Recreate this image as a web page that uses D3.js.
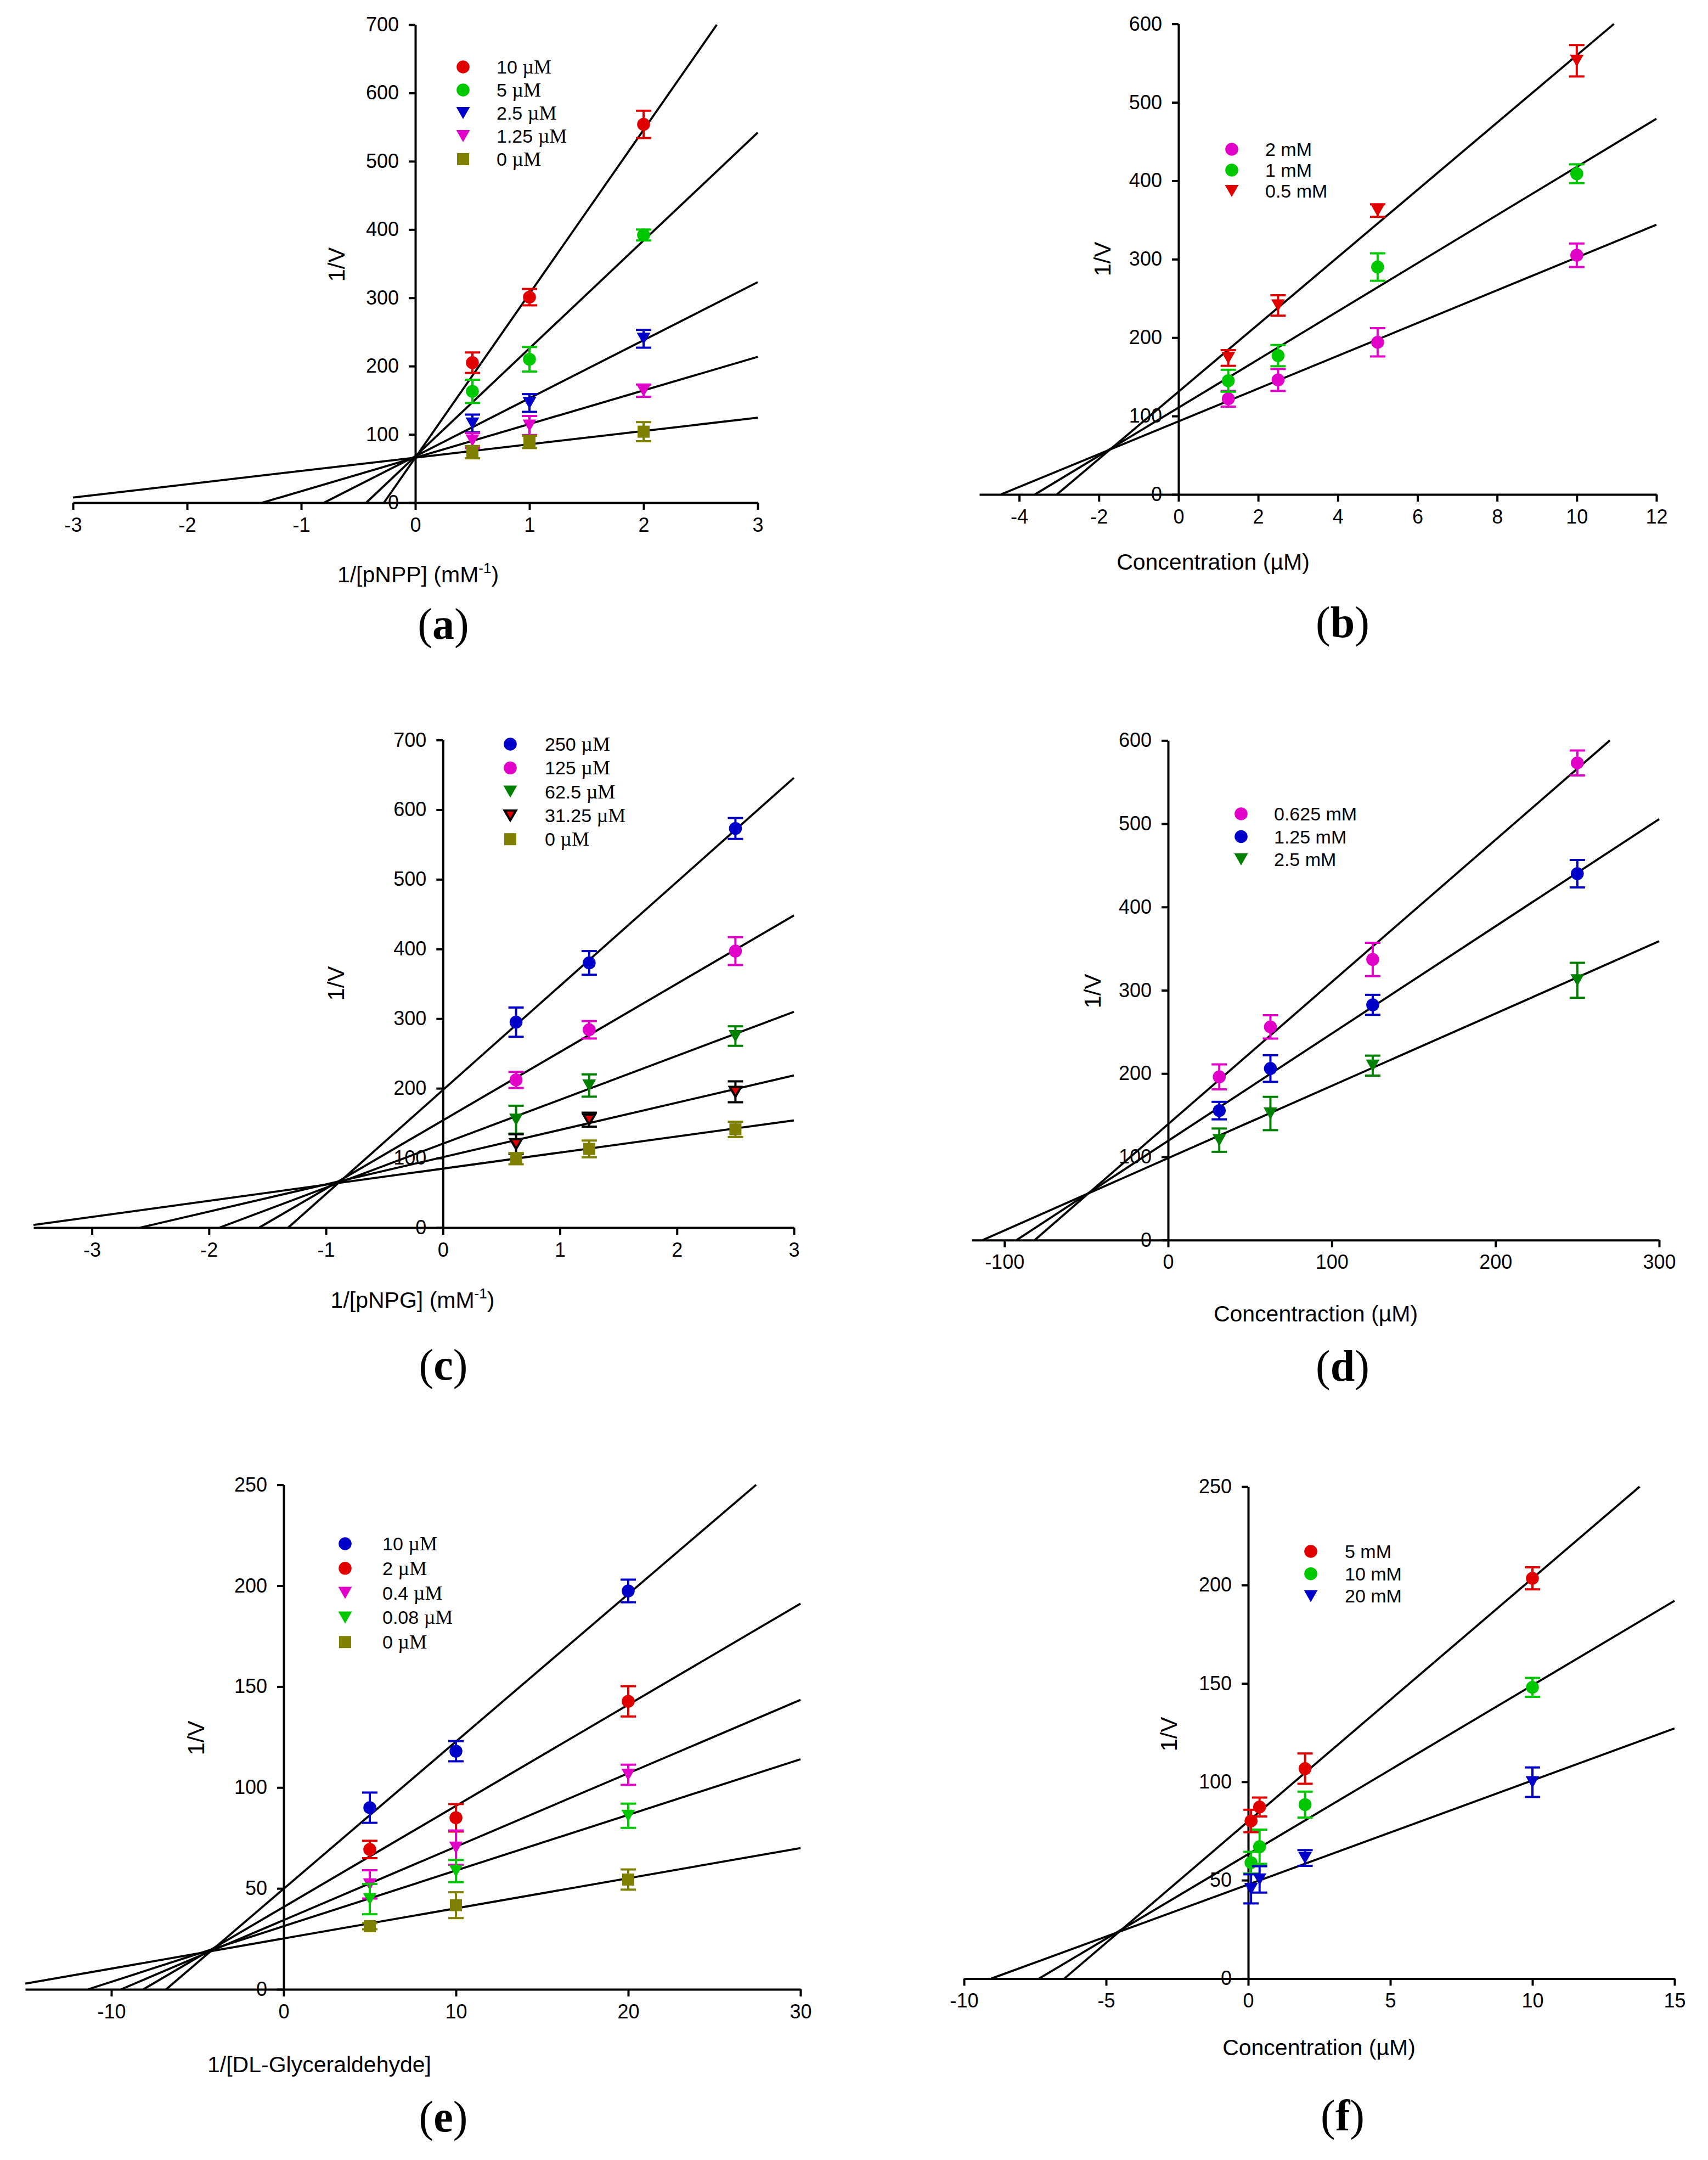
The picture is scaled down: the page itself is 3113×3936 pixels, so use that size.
<!DOCTYPE html>
<html>
<head>
<meta charset="utf-8">
<script src="https://cdn.jsdelivr.net/npm/d3@7"></script>
<style>
  body { margin: 0; background: #fff; }
  text { font-family: "Liberation Sans", Arial, sans-serif; fill: #000; }
</style>
</head>
<body>
<svg id="fig"></svg>
<script>
// ---- (a) pNPP ----
const aX = [0.5, 1, 2];
const aNames = ["10", "5", "2.5", "1.25", "0"];
const aY = [[205, 301, 554], [163, 210, 392], [116, 146, 240], [91, 113, 164], [74, 89, 104]];
const aErr = [[15, 12, 20], [17, 18, 8], [13, 13, 13], [11, 14, 9], [9, 9, 14]];
const aSlope = [240, 158, 85, 49.2, 19.5];
const aInt = [66, 68, 68, 66, 66];

// ---- (b) ----
const bX = [1.25, 2.5, 5, 10];
const bNames = ["2 mM", "1 mM", "0.5 mM"];
const bY = [[122, 146, 194, 305], [145, 177, 290, 409], [174, 241, 362, 553]];
const bErr = [[10, 14, 18, 15], [14, 13.5, 17.5, 12], [10, 13, 8, 20]];
const bSlope = [20.9, 30.7, 42.9];
const bInt = [93.2, 110.7, 131];

// ---- (c) pNPG ----
const cX = [0.625, 1.25, 2.5];
const cNames = ["250", "125", "62.5", "31.25", "0"];
const cY = [[295, 380, 573], [212, 284, 397], [155, 204, 275], [120, 155, 195], [99, 113, 141]];
const cErr = [[21, 17, 15], [11.5, 12.5, 20], [20, 16, 14], [14, 10, 15], [8, 12, 11]];
const cSlope = [149.4, 98.05, 63.1, 39.1, 23.1];
const cInt = [197.6, 154, 120.5, 101.2, 84.7];

// ---- (d) ----
const dX = [31.25, 62.5, 125, 250];
const dNames = ["0.625 mM", "1.25 mM", "2.5 mM"];
const dY = [[196, 256, 337, 573], [155.5, 206, 282.5, 440], [120, 152, 209.5, 312]];
const dErr = [[15, 14, 20, 15], [10.5, 16, 12, 16.5], [14, 20, 12, 21]];
const dSlope = [1.7075, 1.288, 0.8684];
const dInt = [139.2, 119.2, 98.4];

// ---- (e) DL-Glyceraldehyde ----
const eX = [5, 10, 20];
const eNames = ["10", "2", "0.4", "0.08", "0"];
const eY = [[90, 118, 197.4], [69.3, 85, 142.7], [52, 70.2, 106.3], [44.7, 58.6, 86], [31.3, 41.7, 54.4]];
const eErr = [[7.5, 5, 5.6], [4.3, 6.8, 7.5], [7, 8.5, 5], [7.5, 5.5, 6], [1.5, 6.4, 5]];
const eSlope = [7.30, 5.01, 3.637, 2.757, 1.493];
const eInt = [49.8, 40.8, 34.3, 31.3, 25.2];

// ---- (f) ----
const fX = [0.1, 0.4, 2, 10];
const fNames = ["5 mM", "10 mM", "20 mM"];
const fY = [[80.1, 87.2, 106.7, 203.4], [58.9, 67, 88.4, 148], [45.6, 50.4, 61.3, 99.8]];
const fErr = [[5.7, 4.8, 7.7, 5.6], [5.5, 8.7, 6.6, 4.8], [7.4, 6.7, 4, 7.5]];
const fSlope = [12.35, 8.587, 5.289];
const fInt = [79.9, 63.2, 47.8];

// cores e simbolos
const RED = "#e00000", GREEN = "#00c800", BLUE = "#0000c8",
      MAGENTA = "#e000c8", OLIVE = "#808000", DKGREEN = "#008000";

const panels = [
  { tag: "a", xDom: [-3, 3], xPx: [133, 1381], yDom: [0, 700], yPx: [916, 45],
    xTicks: d3.range(-3, 3.01, 1), yTicks: d3.range(0, 701, 100),
    xs: aX, ys: aY, errs: aErr, slope: aSlope, inter: aInt, names: aNames, unitSerif: true,
    colors: [RED, GREEN, BLUE, MAGENTA, OLIVE], shapes: ["c", "c", "t", "t", "s"],
    leg: [844, 122, 42, 905], yLab: [613, 482], xLab: [762, 1046, "1/[pNPP] (mM", "-1", ")"], tagPos: [808, 1138] },
  { tag: "b", xDom: [-5, 12], xPx: [1785, 3019], yDom: [0, 600], yPx: [901, 43.6],
    xTicks: d3.range(-4, 12.01, 2), yTicks: d3.range(0, 601, 100),
    xs: bX, ys: bY, errs: bErr, slope: bSlope, inter: bInt, names: bNames, unitSerif: false,
    colors: [MAGENTA, GREEN, RED], shapes: ["c", "c", "t"],
    leg: [2245, 272, 38, 2306], yLab: [2009, 472], xLab: [2211, 1023, "Concentration (\u00b5M)"], tagPos: [2447, 1135] },
  { tag: "c", xDom: [-3.5, 3], xPx: [61, 1447], yDom: [0, 700], yPx: [2237, 1348.5],
    xTicks: d3.range(-3, 3.01, 1), yTicks: d3.range(0, 701, 100),
    xs: cX, ys: cY, errs: cErr, slope: cSlope, inter: cInt, names: cNames, unitSerif: true,
    colors: [BLUE, MAGENTA, DKGREEN, RED, OLIVE], shapes: ["c", "c", "t", "tb", "s"],
    leg: [930, 1356, 43.3, 993], yLab: [612, 1792], xLab: [752, 2368, "1/[pNPG] (mM", "-1", ")"], tagPos: [808, 2488] },
  { tag: "d", xDom: [-120, 300], xPx: [1771, 3024], yDom: [0, 600], yPx: [2259.7, 1349.3],
    xTicks: d3.range(-100, 301, 100), yTicks: d3.range(0, 601, 100),
    xs: dX, ys: dY, errs: dErr, slope: dSlope, inter: dInt, names: dNames, unitSerif: false,
    colors: [MAGENTA, BLUE, DKGREEN], shapes: ["c", "c", "t"],
    leg: [2262, 1483, 41.5, 2322], yLab: [1991, 1806], xLab: [2398, 2393, "Concentraction (\u00b5M)"], tagPos: [2447, 2490] },
  { tag: "e", xDom: [-15, 30], xPx: [46, 1459], yDom: [0, 250], yPx: [3625, 2705.6],
    xTicks: d3.range(-10, 30.01, 10), yTicks: d3.range(0, 251, 50),
    xs: eX, ys: eY, errs: eErr, slope: eSlope, inter: eInt, names: eNames, unitSerif: true,
    colors: [BLUE, RED, MAGENTA, GREEN, OLIVE], shapes: ["c", "c", "t", "t", "s"],
    leg: [629, 2813, 44.8, 697], yLab: [357, 3167], xLab: [582, 3761, "1/[DL-Glyceraldehyde]"], tagPos: [808, 3858] },
  { tag: "f", xDom: [-10, 15], xPx: [1757, 3052], yDom: [0, 250], yPx: [3605.4, 2709],
    xTicks: d3.range(-10, 15.01, 5), yTicks: d3.range(0, 251, 50),
    xs: fX, ys: fY, errs: fErr, slope: fSlope, inter: fInt, names: fNames, unitSerif: false,
    colors: [RED, GREEN, BLUE], shapes: ["c", "c", "t"],
    leg: [2389, 2827, 40.7, 2451], yLab: [2130, 3160], xLab: [2404, 3730, "Concentration (\u00b5M)"], tagPos: [2447, 3856] }
];

const svg = d3.select("#fig").attr("width", 3113).attr("height", 3936);
svg.append("rect").attr("width", 3113).attr("height", 3936).attr("fill", "#fff");

// desenha um simbolo centrado em (cx, cy)
function marker(g, shape, cx, cy, color) {
  if (shape === "c") {
    g.append("circle").attr("cx", cx).attr("cy", cy).attr("r", 11.8).attr("fill", color);
  } else if (shape === "s") {
    g.append("rect").attr("x", cx - 11).attr("y", cy - 11)
      .attr("width", 22).attr("height", 22).attr("fill", color);
  } else {
    let w = 12.5, h = 11;
    let pts = [[cx - w, cy - h], [cx + w, cy - h], [cx, cy + h]];
    let tri = g.append("path").attr("d", "M" + pts.join("L") + "Z").attr("fill", color);
    if (shape === "tb") {
      // triangulo vermelho com contorno preto
      w = 10.5; h = 9;
      pts = [[cx - w, cy - h], [cx + w, cy - h], [cx, cy + h]];
      tri.attr("d", "M" + pts.join("L") + "Z").attr("stroke", "#000").attr("stroke-width", 4)
        .attr("stroke-linejoin", "miter");
    }
  }
}

function drawPanel(p) {
  const g = svg.append("g").attr("class", "panel-" + p.tag);
  const x = d3.scaleLinear().domain(p.xDom).range(p.xPx);
  const y = d3.scaleLinear().domain(p.yDom).range(p.yPx);

  // eixos
  const xAxis = g.append("g").attr("transform", "translate(0," + y(0) + ")")
    .call(d3.axisBottom(x).tickValues(p.xTicks).tickFormat(d => String(d))
      .tickSizeInner(13).tickSizeOuter(0).tickPadding(14));
  const yAxis = g.append("g").attr("transform", "translate(" + x(0) + ",0)")
    .call(d3.axisLeft(y).tickValues(p.yTicks).tickFormat(d => String(d))
      .tickSizeInner(12).tickSizeOuter(0).tickPadding(18));
  [xAxis, yAxis].forEach(ax => {
    ax.select(".domain").attr("stroke", "#000").attr("stroke-width", 4);
    ax.selectAll(".tick line").attr("stroke", "#000").attr("stroke-width", 4);
    ax.selectAll(".tick text").attr("fill", "#000")
      .style("font-family", "'Liberation Sans', Arial, sans-serif").style("font-size", "36px");
  });

  // retas de regressao (ficam por baixo dos simbolos)
  const line = d3.line().x(d => x(d[0])).y(d => y(d[1]));
  p.slope.forEach((m, i) => {
    const b = p.inter[i];
    const x0 = Math.max(p.xDom[0], -b / m);
    const x1 = Math.min(p.xDom[1], (p.yDom[1] - b) / m);
    g.append("path").attr("d", line([[x0, b + m * x0], [x1, b + m * x1]]))
      .attr("fill", "none").attr("stroke", "#000").attr("stroke-width", 3.8);
  });

  // barras de erro e pontos
  p.ys.forEach((vals, i) => {
    const col = p.shapes[i] === "tb" ? "#000" : p.colors[i];
    const sg = g.append("g");
    vals.forEach((v, j) => {
      const px = x(p.xs[j]);
      const top = y(v + p.errs[i][j]), bot = y(v - p.errs[i][j]);
      sg.append("line").attr("x1", px).attr("x2", px).attr("y1", top).attr("y2", bot)
        .attr("stroke", col).attr("stroke-width", 4);
      [top, bot].forEach(yy => sg.append("line").attr("x1", px - 14).attr("x2", px + 14)
        .attr("y1", yy).attr("y2", yy).attr("stroke", col).attr("stroke-width", 4));
    });
    vals.forEach((v, j) => marker(sg, p.shapes[i], x(p.xs[j]), y(v), p.colors[i]));
  });

  // legenda
  const [lx, ly, ldy, tx] = p.leg;
  p.names.forEach((nm, i) => {
    const yy = ly + i * ldy;
    marker(g, p.shapes[i], lx, yy, p.colors[i]);
    const t = g.append("text").attr("x", tx).attr("y", yy + 12).style("font-size", "34px");
    if (p.unitSerif) {
      t.append("tspan").text(nm + " ");
      t.append("tspan").style("font-family", "'Liberation Serif', 'Times New Roman', serif")
        .style("font-size", "36px").text("\u00b5M");
    } else {
      t.text(nm);
    }
  });

  // titulos dos eixos
  g.append("text").attr("transform", "translate(" + p.yLab[0] + "," + p.yLab[1] + ") rotate(-90)")
    .attr("text-anchor", "middle").attr("dominant-baseline", "central")
    .style("font-size", "42px").text("1/V");
  const xl = g.append("text").attr("x", p.xLab[0]).attr("y", p.xLab[1] + 15)
    .attr("text-anchor", "middle").style("font-size", "41px");
  xl.append("tspan").text(p.xLab[2]);
  if (p.xLab.length > 3) {
    xl.append("tspan").attr("dy", -17).style("font-size", "26px").text(p.xLab[3]);
    xl.append("tspan").attr("dy", 17).text(p.xLab[4]);
  }

  // rotulo do painel
  const tg = g.append("text").attr("x", p.tagPos[0]).attr("y", p.tagPos[1] + 26)
    .attr("text-anchor", "middle")
    .style("font-family", "'Liberation Serif', 'Times New Roman', serif").style("font-size", "80px");
  tg.append("tspan").text("(");
  tg.append("tspan").style("font-weight", "bold").text(p.tag);
  tg.append("tspan").text(")");
}

panels.forEach(drawPanel);
</script>
</body>
</html>
